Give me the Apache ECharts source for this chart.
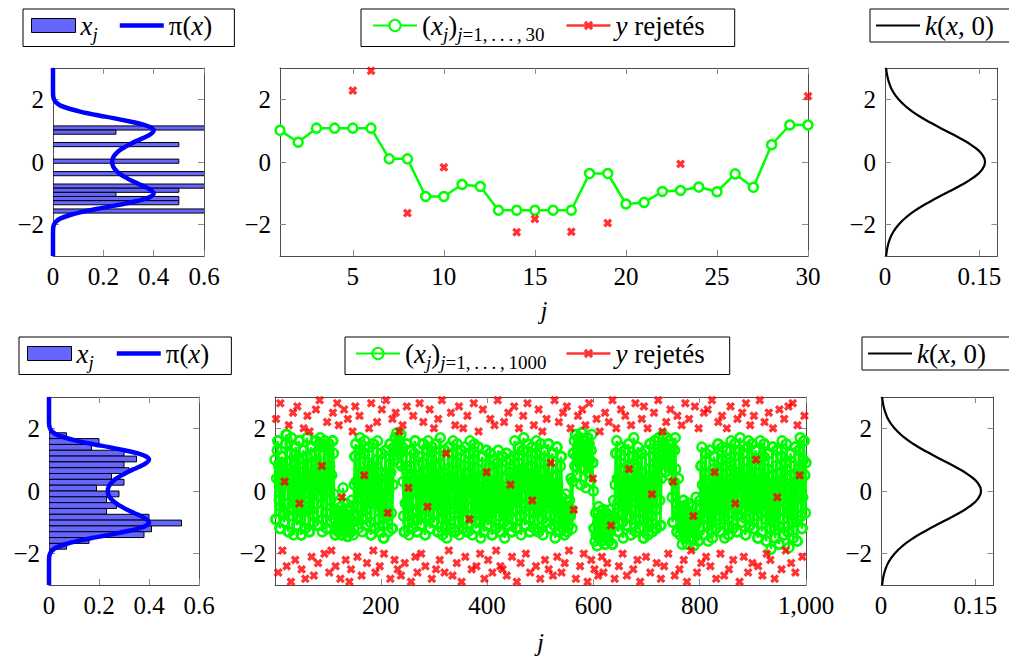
<!DOCTYPE html>
<html><head><meta charset="utf-8">
<script src="https://cdn.jsdelivr.net/npm/echarts@6.0.0/dist/echarts.min.js"></script>
<style>html,body{margin:0;padding:0;background:#fff}#c{width:1009px;height:661px}</style>
</head><body><div id="c"></div>
<script>
// ---------- DATA ----------
// top-left histogram (30 samples): bin centres, bin width, densities
const topHistY = [1.0858,0.9533,0.8208,0.6883,0.5558,0.4233,0.2908,0.1583,0.0258,-0.1067,-0.2392,-0.3718,-0.5043,-0.6368,-0.7693,-0.9018,-1.0343,-1.1668,-1.2993,-1.4318,-1.5643];
const topHistW = 0.1325;
const topHistVal = [1.5,0.25,0,0,0.5,0,0,0,0.5,0,0,0.75,0,0,0.75,0.5,0.25,0.5,0.5,0,1.25];
// bottom-left histogram (1000 samples)
const botHistY = [1.765,1.579,1.393,1.208,1.022,0.836,0.650,0.465,0.279,0.093,-0.093,-0.279,-0.465,-0.650,-0.836,-1.022,-1.208,-1.393,-1.579,-1.765];
const botHistW = 0.1858;
const botHistVal = [0.07,0.20,0.17,0.30,0.35,0.30,0.32,0.25,0.30,0.19,0.28,0.23,0.27,0.23,0.40,0.53,0.41,0.38,0.16,0.07];
// target density pi(x)
const piY = [-3,-2.4,-2.2,-2.1,-2.0,-1.9,-1.8,-1.7,-1.6,-1.5,-1.4,-1.3,-1.2,-1.1,-1.0,-0.9,-0.8,-0.7,-0.6,-0.5,-0.4,-0.3,-0.2,-0.1,0,0.1,0.2,0.3,0.4,0.5,0.6,0.7,0.8,0.9,1.0,1.1,1.2,1.3,1.4,1.5,1.6,1.7,1.8,1.9,2.0,2.1,2.2,2.4,3];
const piX = [0,0,0.0002,0.0008,0.004,0.012,0.03,0.065,0.112,0.172,0.24,0.302,0.356,0.389,0.400,0.390,0.368,0.340,0.313,0.290,0.270,0.254,0.243,0.237,0.235,0.237,0.243,0.254,0.270,0.290,0.313,0.340,0.368,0.390,0.400,0.389,0.356,0.302,0.24,0.172,0.112,0.065,0.03,0.012,0.004,0.0008,0.0002,0,0];
// kernel k(x,0)
const kY = [-3,-2.75,-2.5,-2.25,-2,-1.75,-1.5,-1.25,-1,-0.75,-0.5,-0.25,0,0.25,0.5,0.75,1,1.25,1.5,1.75,2,2.25,2.5,2.75,3];
const kX = [0.0018,0.0036,0.0070,0.0126,0.0215,0.0344,0.0516,0.0729,0.0965,0.1200,0.1404,0.1542,0.1592,0.1542,0.1404,0.1200,0.0965,0.0729,0.0516,0.0344,0.0215,0.0126,0.0070,0.0036,0.0018];
// chain, 30 steps
const chain30 = [1.01,0.63,1.08,1.08,1.08,1.08,0.10,0.10,-1.10,-1.10,-0.72,-0.78,-1.54,-1.54,-1.54,-1.54,-1.54,-0.37,-0.37,-1.34,-1.29,-0.94,-0.91,-0.80,-0.95,-0.38,-0.81,0.55,1.18,1.18];
const rej30J = [5,6,8,10,14,15,17,19,23,30];
const rej30Y = [2.28,2.91,-1.63,-0.17,-2.24,-1.82,-2.23,-1.95,-0.06,2.10];
// chain, 1000 steps (estimated from the dense plot)
const chain1000 = [
1.0,-0.9,-0.9,0.4,1.3,1.6,1.6,0.8,-0.3,-1.2,-1.2,-0.5,0.9,1.1,1.1,0.2,-0.7,-1.0,-1.0,0.6,
1.5,1.8,1.8,0.7,-0.4,-1.3,-1.3,-0.8,0.3,1.2,1.2,1.7,0.5,-0.6,-0.6,-1.4,-0.2,0.9,0.9,1.4,
0.1,-1.1,-1.1,-0.3,1.0,1.6,1.6,0.6,-0.9,-1.4,-1.4,-0.7,0.4,1.3,1.3,-0.1,-1.2,-1.2,0.2,1.1,
1.7,1.7,0.8,-0.5,-1.3,-1.3,-0.6,0.5,1.4,1.4,0.3,-0.8,-1.0,-1.0,0.0,1.2,1.6,1.6,0.9,-0.4,
-1.1,-1.1,0.2,1.5,1.5,1.7,0.7,-0.2,-0.2,-1.3,-0.9,0.6,1.4,1.4,1.6,0.4,-0.7,-1.2,-1.2,0.3,
1.3,1.5,1.5,0.8,-0.3,-1.0,-1.0,0.5,1.6,1.6,1.2,-0.1,-0.9,-1.4,-1.4,-0.6,-1.1,-1.1,-0.4,-1.3,
-1.3,-0.8,-1.2,-1.2,-0.5,-1.4,-1.4,-0.9,0.1,-0.7,-0.7,-1.3,-1.0,-1.0,-0.4,-1.2,-1.45,-1.45,-0.8,-1.1,
-1.1,-0.6,-1.3,-1.3,-0.3,-1.0,-1.0,-1.4,-0.7,0.2,1.1,1.1,1.5,0.3,-0.8,-0.8,-1.2,0.0,1.3,1.3,
1.7,0.6,-0.5,-0.5,-1.3,-0.9,0.4,1.2,1.2,1.6,0.5,-0.6,-1.1,-1.1,-0.2,0.9,1.4,1.4,0.2,-1.0,
-1.4,-1.4,-0.3,0.8,1.5,1.5,0.7,-0.4,-1.2,-1.2,0.1,1.0,1.0,1.6,0.3,-0.9,-1.3,-1.3,-0.5,0.6,
1.2,1.2,-0.1,-1.1,-1.5,-1.5,-0.6,0.5,1.3,1.3,0.4,-0.8,-0.8,-1.3,0.0,1.1,1.5,1.5,0.6,-0.7,
-1.2,-1.2,0.2,1.0,1.4,1.4,1.7,1.7,1.3,1.85,1.5,1.5,0.9,1.6,1.6,1.2,1.8,1.8,0.8,1.4,
1.4,0.3,-0.8,-1.3,-1.3,-0.4,0.7,1.5,1.5,0.1,-1.0,-1.0,-1.4,-0.5,0.8,1.3,1.3,0.0,-1.2,-0.7,
-0.7,0.4,1.2,1.6,1.6,0.5,-0.6,-1.3,-1.3,-0.9,0.3,1.1,1.1,-0.2,-1.1,-1.1,-0.3,0.9,1.5,1.5,
0.6,-0.5,-1.4,-1.4,-0.8,0.2,1.3,1.3,1.6,0.4,-0.9,-0.9,-1.2,0.1,1.0,1.0,1.4,-0.1,-1.0,-1.0,
-0.4,0.8,1.5,1.5,0.3,-0.7,-1.3,-1.3,-0.2,1.1,1.1,1.7,0.5,-0.6,-0.6,-1.4,-0.9,0.6,1.3,1.3,
0.0,-1.1,-1.1,-1.5,-0.5,0.7,1.4,1.4,0.2,-0.8,-1.2,-1.2,0.3,1.2,1.2,1.6,0.4,-0.7,-1.3,-1.3,
-0.3,0.9,0.9,1.5,0.1,-1.0,-1.0,-1.4,-0.6,0.5,1.3,1.3,-0.2,-1.2,-1.2,-0.4,0.8,1.4,1.4,0.2,
-0.9,-1.3,-1.3,-0.5,0.6,1.2,1.2,1.6,0.3,-0.8,-0.8,-1.4,-0.1,1.0,1.0,1.5,0.4,-0.7,-1.2,-1.2,
-0.3,0.7,1.4,1.4,0.1,-1.0,-1.0,-1.5,-0.6,0.4,1.1,1.1,-0.2,-1.3,-1.3,-0.8,0.5,1.3,1.3,0.0,
-1.1,-1.1,-0.4,0.8,1.2,1.2,0.3,-0.9,-1.4,-1.4,-0.6,0.6,1.0,1.0,-0.1,-1.2,-1.2,-0.5,0.9,0.9,
1.3,0.2,-0.8,-1.3,-1.3,-0.3,0.7,1.1,1.1,-0.2,-1.0,-1.0,-1.5,-0.7,0.4,1.2,1.2,0.0,-1.1,-1.1,
-0.5,0.6,1.0,1.0,-0.3,-1.3,-1.3,-0.9,0.2,1.1,1.1,1.6,0.5,-0.6,-1.2,-1.2,-0.2,0.9,1.4,1.4,
0.3,-0.8,-0.8,-1.4,-0.4,0.7,1.3,1.3,1.7,0.6,-0.5,-1.1,-1.1,0.1,1.0,1.0,1.5,0.2,-0.9,-1.3,
-1.3,-0.4,0.8,1.4,1.4,0.4,-0.7,-0.7,-1.2,0.0,1.2,1.2,1.6,0.5,-0.6,-1.3,-1.3,-0.3,0.9,0.9,
1.5,0.2,-0.9,-0.9,-1.4,-0.5,0.6,1.3,1.3,0.1,-1.0,-1.0,-0.2,1.0,1.5,1.5,0.3,-0.8,-1.2,-1.2,
-0.4,0.7,1.2,1.2,-0.1,-1.1,-1.1,-1.5,-0.6,0.5,1.4,1.4,0.2,-0.9,-0.9,-1.3,-0.3,0.8,1.1,1.1,
-0.2,-1.2,-1.2,-0.6,-1.4,-1.4,-0.9,-0.1,-1.0,-1.0,-1.3,-0.5,-1.1,-1.1,-0.3,-0.8,-0.8,0.4,-0.6,-1.2,
0.3,1.2,1.2,1.6,0.8,1.8,1.8,1.1,0.5,1.4,1.4,1.7,0.9,1.5,1.5,0.2,1.3,1.86,1.86,1.0,
1.6,1.6,0.7,1.4,1.4,0.1,1.2,1.7,1.7,0.6,1.5,1.5,1.0,0.3,1.3,1.3,1.8,0.9,0.9,0.0,
-1.2,-1.2,-1.6,-0.7,-1.4,-1.4,-1.75,-1.0,-1.0,-0.5,-1.5,-1.5,-1.2,-0.8,-1.6,-1.6,-1.3,-0.6,-0.6,-1.4,
-1.7,-1.7,-1.1,-0.7,-1.5,-1.5,-0.9,-1.3,-1.3,-1.6,-0.6,-1.2,-1.2,-1.0,-1.7,-1.7,-0.8,-0.3,-1.1,-1.1,
0.2,1.2,1.2,1.6,0.4,-0.7,-1.3,-1.3,-0.3,0.9,1.4,1.4,0.1,-1.0,-1.0,-1.5,-0.5,0.7,1.3,1.3,
-0.1,-1.1,-1.1,-0.4,0.8,1.5,1.5,0.3,-0.8,-1.4,-1.4,-0.6,0.5,1.1,1.1,1.7,0.2,-0.9,-0.9,-1.3,
-0.2,1.0,1.0,1.4,0.4,-0.7,-1.2,-1.2,0.0,1.2,1.2,0.6,-0.5,-1.5,-1.5,-0.9,0.3,1.3,1.3,0.1,
-1.0,-1.0,-1.4,-0.4,0.7,1.5,1.5,0.2,-0.8,-0.8,-1.3,-0.1,1.1,1.1,1.6,0.5,-0.6,-1.2,-1.2,0.3,
1.2,1.2,1.7,0.8,-0.3,-1.1,-1.1,0.4,1.4,1.4,1.8,1.0,1.0,1.5,0.6,1.3,1.3,1.7,0.9,1.2,
1.2,1.6,0.5,1.1,1.1,1.5,0.8,-0.2,-1.0,-1.0,0.3,1.3,1.3,1.7,0.7,-0.4,-1.3,-1.3,-0.6,0.4,
-0.8,-0.8,-1.4,-0.5,-1.2,-1.2,-1.7,-0.9,-0.3,-0.3,-1.1,-1.5,-1.5,-0.6,-1.0,-1.0,-1.7,-1.3,-0.4,-0.4,
-1.2,-0.7,-1.5,-1.5,-1.0,-0.5,-1.3,-1.3,-1.75,-0.8,-0.8,-1.1,-0.2,-1.4,-1.4,-0.9,-1.6,-1.6,-0.6,-1.2,
-0.3,0.8,0.8,1.4,0.2,-0.9,-1.4,-1.4,-0.5,0.6,1.2,1.2,0.0,-1.1,-1.1,-1.6,-0.7,0.5,1.3,1.3,
0.1,-1.0,-1.0,-1.5,-0.4,0.7,1.1,1.1,-0.2,-1.2,-1.2,-0.6,0.6,1.5,1.5,0.3,-0.8,-1.3,-1.3,-0.1,
1.0,1.0,1.4,0.2,-0.9,-0.9,-1.5,-0.5,0.8,1.3,1.3,0.0,-1.1,-1.4,-1.4,-0.3,0.9,0.9,1.6,0.4,
-0.7,-1.2,-1.2,-0.2,1.1,1.5,1.5,0.6,-0.5,-1.3,-1.3,-0.8,0.4,1.3,1.3,1.7,0.5,-0.6,-1.0,-1.0,
0.2,1.2,1.2,0.7,-0.4,-1.4,-1.4,-0.9,0.3,1.4,1.4,1.6,0.1,-1.1,-1.1,-0.5,0.8,1.5,1.5,0.0,
-1.2,-1.2,-0.6,0.6,1.3,1.3,0.2,-0.8,-1.5,-1.5,-0.3,1.0,1.0,1.6,0.4,-0.7,-1.3,-1.3,0.1,1.1,
1.5,1.5,0.3,-0.9,-1.6,-1.6,-0.4,0.7,1.2,1.2,-0.1,-1.2,-1.2,-1.86,-0.8,0.5,1.4,1.4,0.2,-1.0,
-1.0,-1.5,-0.5,0.8,1.3,1.3,0.0,-1.1,-1.7,-1.7,-0.6,0.6,1.1,1.1,1.6,0.3,-0.9,-1.4,-1.4,-0.2,
0.9,0.9,1.5,0.4,-0.7,-1.3,-1.3,-1.8,-0.6,0.5,1.2,1.2,0.1,-1.0,-1.0,-1.5,-0.3,0.8,1.4,1.4,
0.2,-0.9,-1.6,-1.6,-0.5,0.7,1.3,1.3,1.7,0.4,-0.8,-1.2,-1.2,-0.2,1.0,1.6,1.6,0.5,-0.7,0.9
];
// rejected proposals, in the order of the repeated steps of chain1000
const rej1000Y = [
2.3,-2.6,2.8,-1.9,0.3,-2.4,2.1,-2.9,2.5,-2.2,
2.7,-0.4,-2.5,2.0,-2.8,2.4,1.9,-2.1,-2.7,2.6,
-2.3,2.9,0.8,-2.0,2.2,-2.6,-1.9,2.5,-2.4,2.8,
2.1,-2.8,-0.2,2.6,-2.2,2.3,-2.9,-2.5,1.9,2.7,
-2.1,2.4,-2.7,0.5,-2.3,2.0,2.8,-1.9,-2.6,2.2,
-2.4,2.6,-2.0,2.9,-0.7,-2.8,2.3,-2.2,2.5,-2.5,
1.9,-2.7,2.1,-2.3,2.7,0.1,-2.9,2.4,-2.1,-2.6,
2.8,-2.0,2.2,-2.4,-0.5,2.6,-2.8,2.0,-2.5,2.3,
-2.2,2.9,-2.6,1.2,-1.9,2.5,-2.7,2.1,-2.3,2.7,
-2.9,2.0,-2.1,2.4,-0.9,-2.5,2.8,-2.4,1.9,-2.0,
2.6,-2.8,0.6,-2.2,2.3,-2.6,2.1,-1.9,2.9,-2.4,
-2.5,2.2,-2.7,2.5,0.2,-2.1,2.7,-2.9,2.0,-2.3,
2.4,-2.0,2.8,-2.6,-0.3,2.1,-2.4,2.6,-2.8,1.9,
-2.2,2.3,-2.5,0.9,-2.7,2.9,-2.1,2.2,-2.6,2.5,
-2.3,2.7,-1.9,2.0,-0.6,-2.8,2.4,-2.4,2.6,-2.0,
2.1,-2.9,2.8,-2.2,0.4,-2.5,2.3,-2.7,1.9,-2.1,
-2.6,2.5,-2.3,2.2,-1.1,2.9,-2.8,2.0,-2.4,2.6,
-2.0,2.4,-2.7,0.7,2.1,-2.5,2.8,-2.2,-2.9,2.3,
2.7,-2.1,2.0,-2.6,-0.1,2.5,-2.3,2.9,-2.8,1.9,
-2.4,2.2,-2.0,2.6,0.3,-2.7,2.4,-2.5,2.1,-2.2,
2.8,-2.9,2.3,-1.9,-0.8,2.7,-2.6,2.0,-2.3,2.5,
-2.1,2.6,-2.4,2.9,0.6,-2.8,2.2,-2.0,2.4,-2.7,
2.0,-2.5,2.7,-2.2,-0.4,2.3,-2.9,2.5,-2.1,2.8,
-2.6,2.1,-2.3,2.4,1.0,-2.4,2.9,-2.7,2.2,-2.0,
2.5,-2.2,2.0,-2.8,-0.2,2.6,-2.5,2.3,-1.9,2.7,
-2.3,2.8,-2.6,2.1,0.5,-2.1,2.4,-2.9,2.6,-2.4,
2.2,-2.0,2.7,-2.5,-0.7,2.9,-2.2,2.0,-2.7,2.3
];
// tick values
const yTicks = [-2,0,2];
const xTicksHist = [0,0.2,0.4,0.6];
const xTicks30 = [5,10,15,20,25,30];
const xTicks1000 = [200,400,600,800,1000];
const xTicksK = [0,0.15];

// ---------- STYLE ----------
const FONT = 'Liberation Serif';
const FRAME = '#4d4d4d', TICK = '#8a8a8a';
const HIST = '#6666ff';
const GREEN = '#00ff00', RED = '#ff0000', BLUE = '#0000ff';
const XSYM = 'path://M2.6,0L5,2.4L7.4,0L10,2.6L7.6,5L10,7.4L7.4,10L5,7.6L2.6,10L0,7.4L2.4,5L0,2.6Z';
const PAD = 'M0,0L0.01,0L0,0.01ZM0,14L0.01,14L0,13.99Z';
const REJICON = 'path://' + PAD + 'M0,5.8L44,5.8L44,8.2L0,8.2ZM17.3,4.6L19.6,2.3L22,4.7L24.4,2.3L26.7,4.6L24.3,7L26.7,9.4L24.4,11.7L22,9.3L19.6,11.7L17.3,9.4L19.7,7Z';
const PIICON = 'path://' + PAD + 'M0,4.75L44,4.75L44,9.25L0,9.25Z';
const KICON = 'path://' + PAD + 'M0,5.9L44,5.9L44,8.1L0,8.1Z';

const fmt = v => {
  let s = Math.abs(v) >= 1000 ? Number(v).toLocaleString('en-US') : String(+Number(v).toFixed(4));
  return s.replace('-', '\u2212');
};

const grids = [
  {left:53, top:68, width:151, height:188},
  {left:280, top:68, width:528, height:188},
  {left:885, top:68, width:112.5, height:188},
  {left:49, top:397, width:150, height:188},
  {left:275, top:397, width:531, height:188},
  {left:881, top:397, width:112.5, height:188}
];
const xSpec = [
  [0,0.6,xTicksHist,''],[1,30,xTicks30,'j'],[0,0.179,xTicksK,''],
  [0,0.6,xTicksHist,''],[1,1000,xTicks1000,'j'],[0,0.179,xTicksK,'']
];
const labelStyle = {color:'#000', fontSize:25, fontFamily:FONT};
const xAxis = [], yAxis = [];
grids.forEach((g, gi) => {
  const [mn, mx, tk, nm] = xSpec[gi];
  const base = {type:'value', gridIndex:gi, min:mn, max:mx, splitLine:{show:false},
    axisLine:{show:true, onZero:false, lineStyle:{color:FRAME, width:1}},
    axisTick:{show:true, inside:true, length:6, customValues:tk, lineStyle:{color:TICK, width:1}}};
  xAxis.push(Object.assign({}, base, {position:'bottom',
    axisLabel:Object.assign({show:true, customValues:tk, margin:8, formatter:fmt}, labelStyle),
    name:nm, nameLocation:'middle', nameGap:gi < 3 ? 42 : 45,
    nameTextStyle:{color:'#000', fontSize:25, fontFamily:FONT, fontStyle:'italic'}}));
  xAxis.push(Object.assign({}, base, {position:'top', axisLabel:{show:false}}));
  const ybase = {type:'value', gridIndex:gi, min:-3, max:3, splitLine:{show:false},
    axisLine:{show:true, onZero:false, lineStyle:{color:FRAME, width:1}},
    axisTick:{show:true, inside:true, length:6, customValues:yTicks, lineStyle:{color:TICK, width:1}}};
  yAxis.push(Object.assign({}, ybase, {position:'left',
    axisLabel:Object.assign({show:true, customValues:yTicks, margin:9, formatter:fmt}, labelStyle)}));
  yAxis.push(Object.assign({}, ybase, {position:'right', axisLabel:{show:false}}));
});

function histSeries(name, gi, ys, w, vals) {
  return {name, type:'custom', xAxisIndex:2*gi, yAxisIndex:2*gi, clip:true, z:2,
    itemStyle:{color:HIST},
    data: ys.map((y,i) => [vals[i], y - w/2, y + w/2]).filter(d => d[0] > 0),
    renderItem: (params, api) => {
      const p0 = api.coord([0, api.value(2)]);
      const p1 = api.coord([api.value(0), api.value(1)]);
      return {type:'rect', shape:{x:p0[0], y:p0[1], width:p1[0]-p0[0], height:p1[1]-p0[1]},
        style:{fill:HIST, stroke:'#000', lineWidth:1}};
    }};
}
function piSeries(name, gi) {
  return {name, type:'line', xAxisIndex:2*gi, yAxisIndex:2*gi, z:3, symbol:'none', smooth:0.3,
    itemStyle:{color:BLUE}, lineStyle:{color:BLUE, width:4.5},
    data: piY.map((y,i) => [piX[i], y])};
}
function kSeries(name, gi) {
  return {name, type:'line', xAxisIndex:2*gi, yAxisIndex:2*gi, symbol:'none', smooth:true,
    itemStyle:{color:'#000'}, lineStyle:{color:'#000', width:2.2},
    data: kY.map((y,i) => [kX[i], y])};
}
function chainSeries(name, gi, vals, size, lw, fill) {
  return {name, type:'line', xAxisIndex:2*gi, yAxisIndex:2*gi, z:2,
    symbol:'circle', symbolSize:size, showAllSymbol:true,
    itemStyle:{color:fill, borderColor:GREEN, borderWidth:lw},
    lineStyle:{color:GREEN, width:lw},
    data: vals.map((v,i) => [i+1, v])};
}
function rejSeries(name, gi, pts, size) {
  return {name, type:'scatter', xAxisIndex:2*gi, yAxisIndex:2*gi, z:4,
    symbol:XSYM, symbolSize:size, itemStyle:{color:RED}, data: pts};
}
const rej30 = rej30J.map((j,i) => [j, rej30Y[i]]);
const rej1000 = [];
{ let k = 0;
  for (let j = 2; j <= chain1000.length && k < rej1000Y.length; j++) {
    if (chain1000[j-1] === chain1000[j-2]) { rej1000.push([j, rej1000Y[k]]); k++; }
  } }

const series = [
  histSeries('xj', 0, topHistY, topHistW, topHistVal), piSeries('pi', 0),
  chainSeries('chain30', 1, chain30, 9, 2.5, '#fff'), rejSeries('rej30', 1, rej30, 9),
  kSeries('k', 2),
  histSeries('xj2', 3, botHistY, botHistW, botHistVal), piSeries('pi2', 3),
  chainSeries('chain1000', 4, chain1000, 9, 2.5, 'rgba(255,255,255,0)'), rejSeries('rej1000', 4, rej1000, 9),
  kSeries('k2', 5)
];

const RICH = {
  n:{fontFamily:FONT, fontSize:27, lineHeight:36, color:'#000'},
  i:{fontFamily:FONT, fontSize:27, fontStyle:'italic', lineHeight:36, color:'#000'},
  s:{fontFamily:FONT, fontSize:19, fontStyle:'italic', lineHeight:19, verticalAlign:'bottom', color:'#000'},
  sn:{fontFamily:FONT, fontSize:19, lineHeight:19, verticalAlign:'bottom', color:'#000'}
};
const LABELS = {
  xj:'{i|x}{s|j}', xj2:'{i|x}{s|j}',
  pi:'{n|\u03c0(}{i|x}{n|)}', pi2:'{n|\u03c0(}{i|x}{n|)}',
  chain30:'{n|(}{i|x}{s|j}{n|)}{s|j}{sn|=1,\u2009.\u2009.\u2009.\u2009,\u200930}',
  chain1000:'{n|(}{i|x}{s|j}{n|)}{s|j}{sn|=1,\u2009.\u2009.\u2009.\u2009,\u20091000}',
  rej30:'{i|y}{n| rejetés}', rej1000:'{i|y}{n| rejetés}',
  k:'{i|k}{n|(}{i|x}{n|, 0)}', k2:'{i|k}{n|(}{i|x}{n|, 0)}'
};
function legendBox(left, top, data, padL, padR, gap) {
  return {left, top, orient:'horizontal', borderColor:'#000', borderWidth:1, borderRadius:0,
    padding:[3,padR,3,padL], itemGap:gap, itemWidth:44, itemHeight:14, selectedMode:false,
    data, formatter: n => LABELS[n],
    textStyle:{color:'#000', fontFamily:FONT, fontSize:27, rich:RICH}};
}
const histIcon = n => ({name:n, icon:'rect', itemStyle:{color:HIST, borderColor:'#000', borderWidth:1}});
const legend = [
  legendBox(23, 9, [histIcon('xj'), {name:'pi', icon:PIICON}], 8, 22, 22),
  legendBox(361, 9, ['chain30', {name:'rej30', icon:REJICON}], 11, 30, 22),
  legendBox(870, 9, [{name:'k', icon:KICON}], 6, 24, 10),
  legendBox(19, 337, [histIcon('xj2'), {name:'pi2', icon:PIICON}], 8, 22, 23),
  legendBox(345, 337, ['chain1000', {name:'rej1000', icon:REJICON}], 10, 25, 20),
  legendBox(862, 337, [{name:'k2', icon:KICON}], 6, 24, 10)
];

const chart = echarts.init(document.getElementById('c'), null, {renderer:'svg'});
chart.setOption({animation:false, backgroundColor:'#fff', grid:grids, xAxis, yAxis, legend, series});
</script></body></html>
